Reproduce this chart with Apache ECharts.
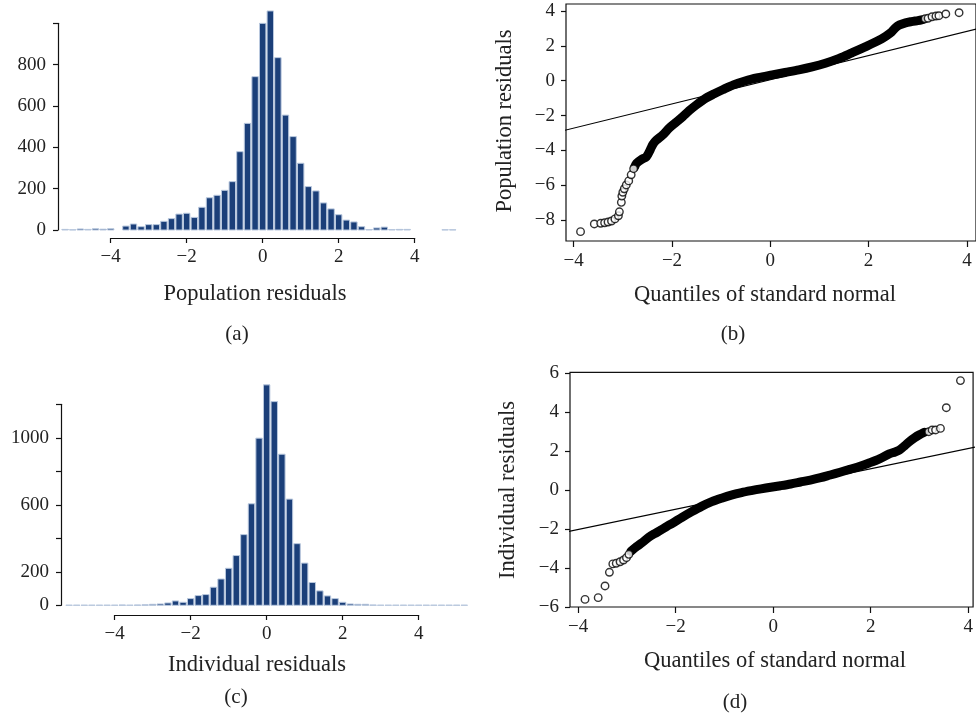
<!DOCTYPE html>
<html>
<head>
<meta charset="utf-8">
<title>Residual histograms and normal QQ plots</title>
<script src="https://cdn.jsdelivr.net/npm/echarts@6/dist/echarts.min.js"></script>
<style>
  html, body { margin: 0; padding: 0; background: #fff; }
  #chart { width: 976px; height: 715px; }
</style>
</head>
<body>
<div id="chart"></div>
<script>
// histogram bins: centre of each 0.2 wide bin
var binWidth = 0.2;
var binCentres = [-5.2, -5.0, -4.8, -4.6, -4.4, -4.2, -4.0, -3.8, -3.6, -3.4, -3.2, -3.0, -2.8, -2.6,
  -2.4, -2.2, -2.0, -1.8, -1.6, -1.4, -1.2, -1.0, -0.8, -0.6, -0.4, -0.2, 0.0, 0.2, 0.4, 0.6, 0.8,
  1.0, 1.2, 1.4, 1.6, 1.8, 2.0, 2.2, 2.4, 2.6, 2.8, 3.0, 3.2, 3.4, 3.6, 3.8, 4.0, 4.2, 4.4, 4.6,
  4.8, 5.0, 5.2];
// (a) population residuals
var popCounts = [3, 1, 5, 3, 6, 4, 6, 0, 19, 29, 16, 26, 26, 42,
  55, 77, 81, 61, 110, 156, 168, 192, 234, 379, 516, 742, 1000, 1060, 834, 556, 452,
  323, 210, 189, 131, 102, 74, 48, 39, 16, 2, 10, 14, 2, 3, 3, 0, 0, 0, 0,
  1, 1, 0];
// (c) individual residuals
var indCounts = [1, 1, 1, 1, 1, 1, 1, 2, 1, 2, 3, 6, 8, 14,
  26, 18, 40, 58, 64, 108, 157, 221, 297, 422, 606, 998, 1316, 1216, 902, 634, 368,
  252, 136, 86, 56, 40, 18, 8, 6, 6, 2, 1, 1, 1, 1, 1, 1, 1, 1, 1,
  1, 1, 1];
var popTicks = [0, 200, 400, 600, 800];
var indTicks = [0, 200, 600, 1000];

// (b) QQ plot of population residuals
var popQqDense = [[-2.76, -4.95], [-2.72, -4.74], [-2.62, -4.52], [-2.52, -4.36], [-2.44, -3.95],
  [-2.39, -3.66], [-2.32, -3.42], [-2.19, -3.12], [-2.05, -2.70], [-1.9, -2.35], [-1.78, -2.06],
  [-1.65, -1.72], [-1.5, -1.38], [-1.31, -1.0], [-1.14, -0.75], [-0.97, -0.52], [-0.75, -0.24],
  [-0.5, 0.0], [-0.25, 0.17], [0.04, 0.33], [0.3, 0.47], [0.58, 0.62], [0.85, 0.79], [1.12, 1.0],
  [1.4, 1.28], [1.66, 1.6], [1.93, 1.94], [2.2, 2.3], [2.35, 2.55], [2.47, 2.8], [2.55, 3.05],
  [2.63, 3.2], [2.75, 3.32], [2.87, 3.39], [3.0, 3.45], [3.1, 3.5]];
var popQqTail = [[-3.86, -8.66], [-3.58, -8.22], [-3.45, -8.18], [-3.37, -8.15], [-3.30, -8.11],
  [-3.23, -8.05], [-3.16, -7.93], [-3.09, -7.75], [-3.07, -7.52], [-3.03, -6.98], [-3.02, -6.62],
  [-3.0, -6.40], [-2.97, -6.2], [-2.93, -5.98], [-2.88, -5.75], [-2.83, -5.4], [-2.78, -5.05],
  [3.15, 3.55], [3.21, 3.58], [3.29, 3.67], [3.37, 3.71], [3.43, 3.73], [3.57, 3.83], [3.84, 3.90]];
var popQqLine = [[-4.2, -2.86], [4.2, 2.97]];
var popQqTicksX = [-4, -2, 0, 2, 4];
var popQqTicksY = [-8, -6, -4, -2, 0, 2, 4];

// (d) QQ plot of individual residuals
var indQqDense = [[-2.92, -3.15], [-2.8, -2.9], [-2.7, -2.72], [-2.55, -2.42], [-2.42, -2.22],
  [-2.3, -2.05], [-2.18, -1.86], [-2.07, -1.71], [-1.87, -1.40], [-1.67, -1.11], [-1.47, -0.84],
  [-1.26, -0.60], [-1.06, -0.42], [-0.86, -0.26], [-0.65, -0.13], [-0.45, -0.03], [-0.25, 0.06],
  [-0.05, 0.14], [0.15, 0.22], [0.36, 0.31], [0.56, 0.41], [0.76, 0.51], [0.97, 0.63], [1.17, 0.77],
  [1.37, 0.91], [1.57, 1.06], [1.78, 1.22], [1.98, 1.40], [2.18, 1.60], [2.38, 1.85], [2.5, 1.95],
  [2.59, 2.05], [2.7, 2.28], [2.79, 2.48], [2.9, 2.68], [2.99, 2.82], [3.1, 2.96]];
var indQqTail = [[-3.86, -5.61], [-3.59, -5.52], [-3.45, -4.92], [-3.36, -4.22], [-3.29, -3.79],
  [-3.22, -3.76], [-3.14, -3.68], [-3.07, -3.59], [-3.01, -3.47], [-2.96, -3.3],
  [3.19, 2.99], [3.26, 3.08], [3.33, 3.08], [3.43, 3.16], [3.55, 4.22], [3.84, 5.61]];
var indQqLine = [[-4.2, -2.13], [4.2, 2.23]];
var indQqTicksX = [-4, -2, 0, 2, 4];
var indQqTicksY = [-6, -4, -2, 0, 2, 4, 6];

var font = 'Liberation Serif';
var ink = '#222';
var axisColor = '#111';
var barFill = '#1b3f79';
var barEdge = '#b9c8de';

function minus(v) {
  return String(v).replace('-', '\u2212');
}

// pixel placement of each panel: position of value 0 and px per unit
var pa = { x0: 262.7, sx: 38, y0: 230, sy: 41.33 / 200, yAxisX: 58, xAxisY: 238, yTop: 1100, yMax: 1000 };
var pc = { x0: 266.67, sx: 38, y0: 605.3, sy: 33.5 / 200, yAxisX: 61, xAxisY: 615, yTop: 1400, yMax: 1200 };
var pb = { left: 566, top: 4, width: 412, height: 237, x0: 771.3, sx: 49.4, y0: 80.7, sy: 17.43 };
var pd = { left: 570, top: 372.3, width: 408, height: 234.7, x0: 775.7, sx: 49.35, y0: 490, sy: 19.5 };

function histGrids(p) {
  var data = { left: p.x0 - 5.4 * p.sx, width: 10.8 * p.sx, top: p.y0 - p.yTop * p.sy, height: p.yTop * p.sy };
  var disp = { left: p.x0 - 4 * p.sx, width: 8 * p.sx, top: p.y0 - p.yMax * p.sy, height: p.yMax * p.sy };
  return [data, disp];
}

function histBar(params, api) {
  var c = api.value(0), n = api.value(1);
  var tl = api.coord([c - binWidth / 2, n]);
  var br = api.coord([c + binWidth / 2, 0]);
  return {
    type: 'rect',
    shape: { x: tl[0] + 0.6, y: tl[1], width: br[0] - tl[0] - 1.2, height: br[1] - tl[1] },
    style: { fill: barFill, stroke: barEdge, lineWidth: 1 }
  };
}

function barData(counts) {
  var out = [];
  for (var i = 0; i < binCentres.length; i++) {
    if (counts[i] > 0) out.push([binCentres[i], counts[i]]);
  }
  return out;
}

var lineStyle = { color: axisColor, width: 1.2 };
var labelStyle = { fontFamily: font, fontSize: 19, color: ink };

function hiddenAxis(grid, min, max) {
  return { gridIndex: grid, type: 'value', min: min, max: max, show: false, splitLine: { show: false } };
}

var ga = histGrids(pa), gc = histGrids(pc);
var grids = [ga[0], ga[1], gc[0], gc[1],
  { left: pb.left, top: pb.top, width: pb.width, height: pb.height },
  { left: pd.left, top: pd.top, width: pd.width, height: pd.height }];
grids.forEach(function (g, i) {
  g.containLabel = false;
  if (i >= 4) {
    g.show = true;
    g.borderColor = axisColor;
    g.borderWidth = 1.2;
    g.backgroundColor = 'transparent';
  }
});

function histXAxis(grid, p) {
  return {
    gridIndex: grid, type: 'value', min: -4, max: 4, interval: 2,
    offset: p.xAxisY - p.y0,
    axisLine: { onZero: false, lineStyle: lineStyle },
    axisTick: { length: 5, lineStyle: lineStyle },
    axisLabel: Object.assign({ margin: 10, formatter: minus }, labelStyle),
    splitLine: { show: false }
  };
}
function histYAxis(grid, p, shown) {
  return {
    gridIndex: grid, type: 'value', min: 0, max: p.yMax, interval: 200,
    offset: (p.x0 - 4 * p.sx) - p.yAxisX,
    axisLine: { show: true, onZero: false, lineStyle: lineStyle },
    axisTick: { show: true, length: 5, lineStyle: lineStyle },
    axisLabel: Object.assign({
      margin: 12,
      formatter: function (v) { return shown.indexOf(v) >= 0 ? String(v) : ''; }
    }, labelStyle),
    splitLine: { show: false }
  };
}
function qqXAxis(grid, p, ticks) {
  return {
    gridIndex: grid, type: 'value',
    min: (p.left - p.x0) / p.sx, max: (p.left + p.width - p.x0) / p.sx,
    axisLine: { show: false, onZero: false },
    axisTick: { show: true, length: 6, lineStyle: lineStyle, customValues: ticks },
    axisLabel: Object.assign({ margin: 11, formatter: minus, customValues: ticks, showMinLabel: true, showMaxLabel: true }, labelStyle),
    splitLine: { show: false }
  };
}
function qqYAxis(grid, p, ticks) {
  return {
    gridIndex: grid, type: 'value',
    min: -(p.top + p.height - p.y0) / p.sy, max: (p.y0 - p.top) / p.sy,
    axisLine: { show: false, onZero: false },
    axisTick: { show: true, length: 5, lineStyle: lineStyle, customValues: ticks },
    axisLabel: Object.assign({ margin: 11, formatter: minus, customValues: ticks, showMinLabel: true, showMaxLabel: true }, labelStyle),
    splitLine: { show: false }
  };
}

function qqSeries(grid, dense, tail, ref) {
  return [
    {
      type: 'line', xAxisIndex: grid, yAxisIndex: grid, data: ref, symbol: 'none', z: 2,
      lineStyle: { color: '#000', width: 1.1 }, silent: true
    },
    {
      type: 'line', xAxisIndex: grid, yAxisIndex: grid, data: dense, symbol: 'none', smooth: 0.3, z: 3,
      lineStyle: { color: '#000', width: 9, cap: 'round', join: 'round' }, silent: true
    },
    {
      type: 'scatter', xAxisIndex: grid, yAxisIndex: grid, data: tail, symbol: 'circle', symbolSize: 7.5, z: 4,
      itemStyle: { color: '#fff', borderColor: '#000', borderWidth: 1.4 }, silent: true
    }
  ];
}

function label(text, x, y, size, rotate) {
  return {
    type: 'text', x: x, y: y, rotation: rotate ? Math.PI / 2 : 0,
    style: { text: text, fill: ink, font: size + 'px "' + font + '"', align: 'center', verticalAlign: 'middle' }
  };
}

var chart = echarts.init(document.getElementById('chart'), null, { renderer: 'canvas' });
chart.setOption({
  animation: false,
  backgroundColor: '#fff',
  grid: grids,
  xAxis: [
    hiddenAxis(0, -5.4, 5.4), histXAxis(1, pa),
    hiddenAxis(2, -5.4, 5.4), histXAxis(3, pc),
    qqXAxis(4, pb, popQqTicksX), qqXAxis(5, pd, indQqTicksX)
  ],
  yAxis: [
    hiddenAxis(0, 0, pa.yTop), histYAxis(1, pa, popTicks),
    hiddenAxis(2, 0, pc.yTop), histYAxis(3, pc, indTicks),
    qqYAxis(4, pb, popQqTicksY), qqYAxis(5, pd, indQqTicksY)
  ],
  series: [
    { type: 'custom', xAxisIndex: 0, yAxisIndex: 0, data: barData(popCounts), renderItem: histBar, clip: false, silent: true },
    { type: 'custom', xAxisIndex: 2, yAxisIndex: 2, data: barData(indCounts), renderItem: histBar, clip: false, silent: true }
  ].concat(qqSeries(4, popQqDense, popQqTail, popQqLine))
   .concat(qqSeries(5, indQqDense, indQqTail, indQqLine)),
  graphic: [
    label('Population residuals', 255, 294, 22.5),
    label('(a)', 237, 334, 21),
    label('Population residuals', 505, 121, 22.5, true),
    label('Quantiles of standard normal', 765, 295, 22.5),
    label('(b)', 733, 334, 21),
    label('Individual residuals', 257, 665, 22.5),
    label('(c)', 236, 697, 21),
    label('Individual residuals', 508, 490, 22.5, true),
    label('Quantiles of standard normal', 775, 661, 22.5),
    label('(d)', 735, 702, 21)
  ]
});
</script>
</body>
</html>
